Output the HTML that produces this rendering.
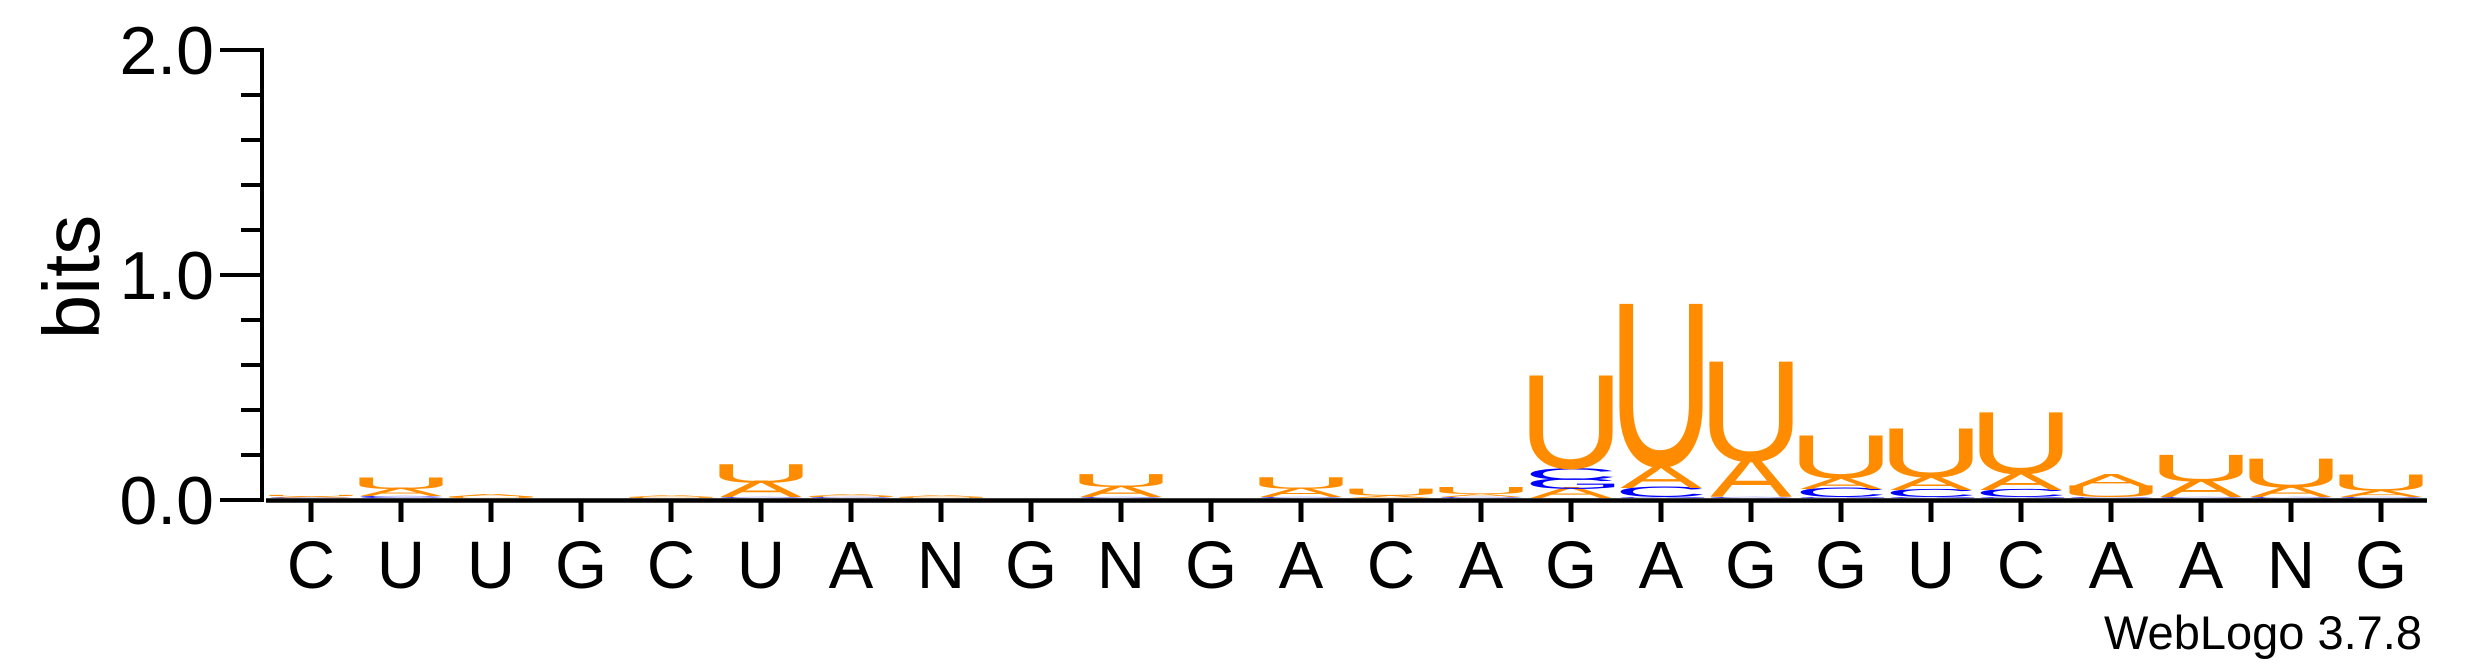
<!DOCTYPE html>
<html><head><meta charset="utf-8"><style>
html,body{margin:0;padding:0;background:#fff;}
svg{display:block;font-family:"Liberation Sans",Arial,sans-serif;}
</style></head><body>
<svg id="chart" width="2475" height="667" viewBox="0 0 2475 667">
<g id="axes"></g><g id="stacks"></g>
</svg>
<script>
const positions = ["C","U","U","G","C","U","A","N","G","N","G","A","C","A","G","A","G","G","U","C","A","A","N","G"];
const bitsA = [.005,.031,.01,0,.008,.062,.006,.006,0,.044,0,.036,.01,.013,.04,.084,.151,.044,.053,.067,.049,.067,.04,.027];
const bitsC = [.003,.008,0,0,0,.004,.004,0,0,.004,0,.004,0,.004,.044,.04,.004,.036,.031,.031,.004,.004,.004,.004];
const bitsG = [0,0,0,0,0,0,0,0,0,0,0,0,0,0,.04,.004,0,.004,.004,.004,0,0,0,0];
const bitsU = [.005,.044,.006,0,.004,.071,.004,.004,0,.049,0,.044,.027,.027,.356,.622,.382,.164,.187,.236,.044,.102,.111,.062];
const yTicks = ["0.0","1.0","2.0"];
const yMinor = [0.2,0.4,0.6,0.8,1.2,1.4,1.6,1.8];

const NS="http://www.w3.org/2000/svg";
const y0=498, pxPerBit=225, x0=311, dx=90, colW=82;
const yS=v=>y0-v*pxPerBit;
const xS=i=>x0+i*dx;
function mk(tag,attrs,parent){const e=document.createElementNS(NS,tag);for(const k in attrs)e.setAttribute(k,attrs[k]);parent.appendChild(e);return e;}
const axes=document.getElementById('axes');
const stacks=document.getElementById('stacks');

let yl=mk('line',{x1:262,y1:48,x2:262,y2:502,stroke:'#000','stroke-width':4},axes);


yTicks.forEach(t=>{
  const v=parseFloat(t);
  const yy=500-v*pxPerBit;
  const l=mk('line',{x1:220,y1:yy,x2:264,y2:yy,stroke:'#000','stroke-width':4},axes);
  
  
  const tx=mk('text',{x:214,y:yy+24,'text-anchor':'end','font-size':68},axes);
  tx.textContent=t;
  
  
});
yMinor.forEach(v=>{
  const yy=500-v*pxPerBit;
  const l=mk('line',{x1:241,y1:yy,x2:264,y2:yy,stroke:'#000','stroke-width':4},axes);
  
  
});
const yt=mk('text',{x:0,y:0,'text-anchor':'middle','font-size':80,transform:'translate(99,277) rotate(-90)'},axes);
yt.textContent='bits';



const xl=mk('line',{x1:266,y1:500.5,x2:2427,y2:500.5,stroke:'#000','stroke-width':4.5},axes);


positions.forEach((p,i)=>{
  const l=mk('line',{x1:xS(i),y1:502,x2:xS(i),y2:522,stroke:'#000','stroke-width':5},axes);
  
  
  const t=mk('text',{x:xS(i),y:588,'text-anchor':'middle','font-size':67},axes);
  t.textContent=p;
  
  
});
const wl=mk('text',{x:2422,y:649,'text-anchor':'end','font-size':47},axes);
wl.textContent='WebLogo 3.7.8';



const K=0.85;
const glyph={A:{w:67,h:68.8*K,off:0},C:{w:63,h:71*K,off:0},G:{w:64,h:71*K,off:2.3},U:{w:56,h:70*K,off:0}};
const colors={A:'#FF8C00',U:'#FF8C00',C:'#0000FF',G:'#0000FF'};
positions.forEach((p,i)=>{
  const col=[['A',bitsA[i]],['C',bitsC[i]],['G',bitsG[i]],['U',bitsU[i]]].filter(d=>d[1]>0).sort((a,b)=>a[1]-b[1]);
  let base=0;
  col.forEach(([L,v])=>{
    const g=glyph[L];
    const h=v*pxPerBit;
    const sy=h/g.h, sx=colW/g.w;
    const yb=yS(base) - (L==='A'?0:1.5*sy);
    const t=mk('text',{x:0,y:0,'text-anchor':'middle','font-size':100,fill:colors[L],
      transform:`translate(${xS(i)+g.off*sx},${yb}) scale(${sx},${sy})`},stacks);
    t.textContent=L;
    
    
    base+=v;
  });
});
</script>
</body></html>
